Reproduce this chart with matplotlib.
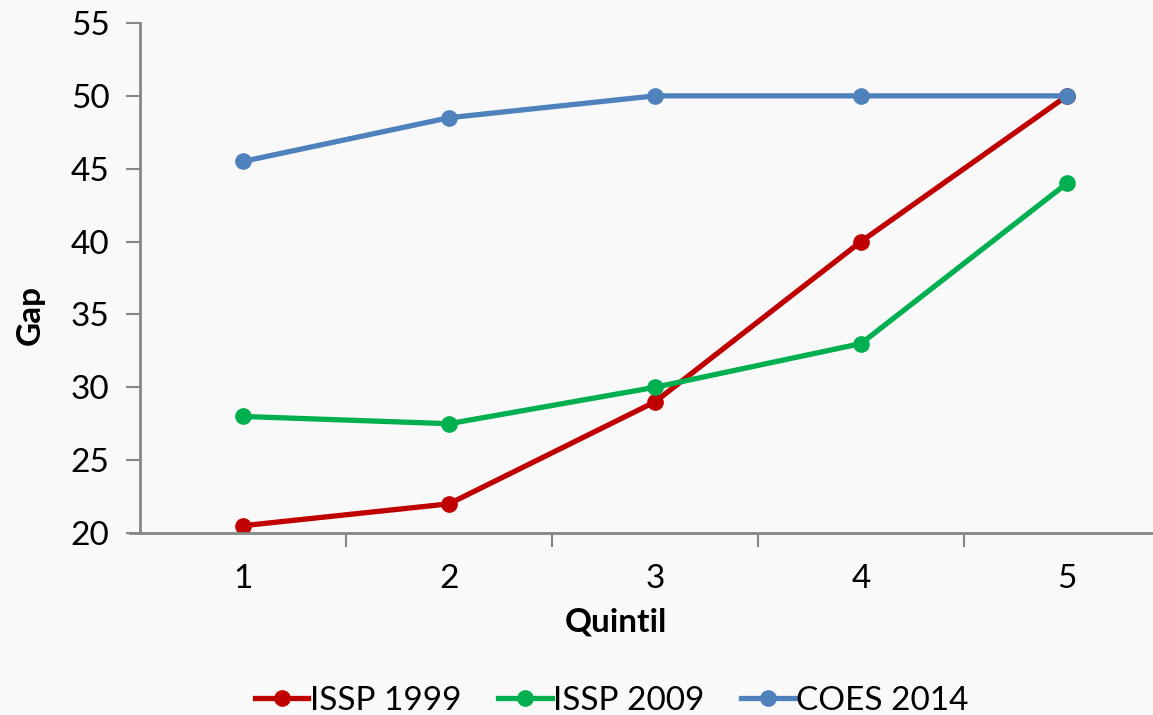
import matplotlib.pyplot as plt

# datos
quintil = [1, 2, 3, 4, 5]
issp_1999 = [20.5, 22, 29, 40, 50]
issp_2009 = [28, 27.5, 30, 33, 44]
coes_2014 = [45.5, 48.5, 50, 50, 50]
yticks = [20, 25, 30, 35, 40, 45, 50, 55]

plt.rcParams['font.family'] = ['Lato', 'DejaVu Sans']
bg = '#f9f9f9'
gris = '#868686'

fig = plt.figure(figsize=(11.53, 7.15), dpi=100, facecolor=bg)
ax = fig.add_axes([140/1153, 1-533/715, 1-140/1153, 510/715], facecolor=bg)

ax.plot(quintil, issp_1999, '-o', color='#C00000', lw=3.8, ms=11, label='ISSP 1999')
ax.plot(quintil, issp_2009, '-o', color='#00B050', lw=3.8, ms=11, label='ISSP 2009')
ax.plot(quintil, coes_2014, '-o', color='#4F81BD', lw=3.8, ms=11, label='COES 2014')

ax.set_xlim(0.5, 0.5 + 1013/206)
ax.set_ylim(20, 55)
ax.set_yticks(yticks)
ax.set_xticks([1.5, 2.5, 3.5, 4.5], minor=False)
ax.set_xticklabels([])
ax.set_xticks(quintil, minor=True)
ax.set_xticklabels([str(q) for q in quintil], minor=True)
ax.tick_params(axis='x', which='major', length=10, width=1.5, color=gris, direction='out')
ax.tick_params(axis='x', which='minor', length=0, pad=22, labelsize=24)
ax.tick_params(axis='y', length=10, width=1.5, color=gris, labelsize=24, pad=12)

for s in ['top', 'right']:
    ax.spines[s].set_visible(False)
for s in ['left', 'bottom']:
    ax.spines[s].set_color(gris)
    ax.spines[s].set_linewidth(2)
ax.spines['bottom'].set_bounds(0.5 - 10/206, 0.5 + 1013/206)

fig.text(30/1153, 1-315/715, 'Gap', rotation=90, fontsize=24, fontweight='bold', ha='center', va='center')
fig.text(616/1153, 1-622/715, 'Quintil', fontsize=24, fontweight='bold', ha='center', va='center')

fig.legend(loc='center', bbox_to_anchor=(612/1153, 1-701/715), ncol=3, frameon=False,
           fontsize=24, handlelength=1.6, handletextpad=0.05, columnspacing=1.1)

fig.savefig('out.png', dpi=100, facecolor=bg)
